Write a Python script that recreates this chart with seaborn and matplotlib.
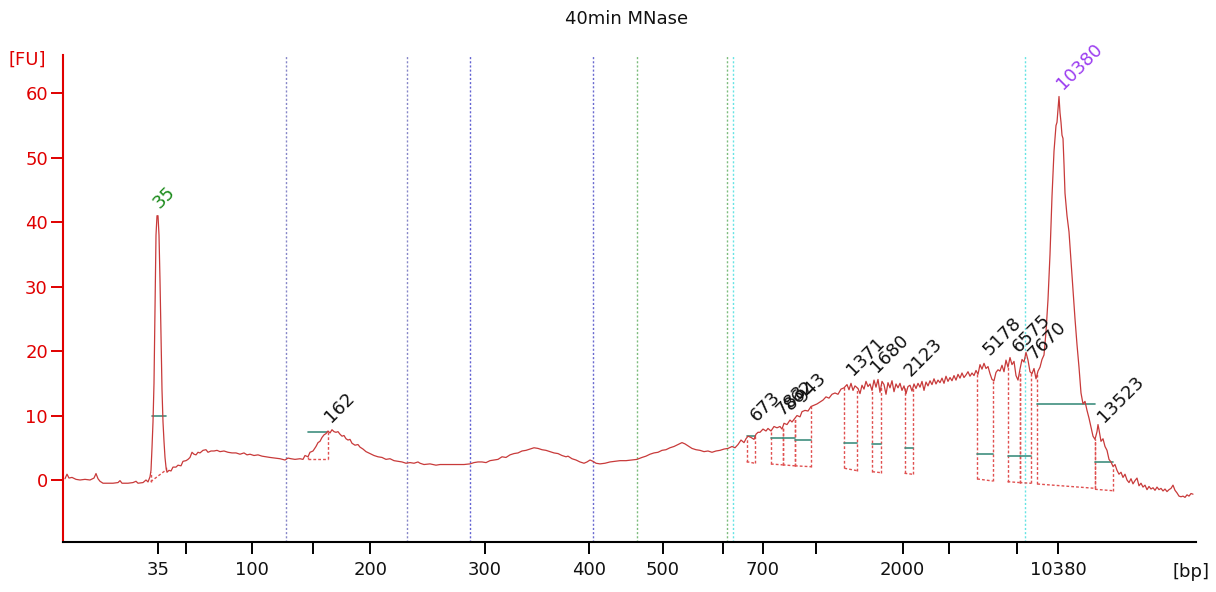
import numpy as np
import pandas as pd
import matplotlib
matplotlib.use("Agg")
import matplotlib.pyplot as plt
import seaborn as sns

# ---------------- data ----------------
title = "40min MNase"

# migration time (s) and fluorescence (FU) of the electropherogram trace
trace_time = [
    6.5, 6.7, 6.9, 7.2, 7.6, 8.0, 8.5, 9.0, 9.4, 9.6,
    9.8, 10.0, 10.3, 10.8, 11.3, 11.8, 12.0, 12.2, 12.8, 13.3,
    13.6, 13.8, 14.3, 14.6, 14.8, 15.0, 15.1, 15.2, 15.3, 15.4,
    15.5, 15.6, 15.7, 15.8, 15.9, 16.0, 16.1, 16.2, 16.3, 16.4,
    16.5, 16.6, 16.7, 16.9, 17.1, 17.3, 17.6, 17.8, 18.1, 18.3,
    18.6, 18.8, 19.0, 19.2, 19.4, 19.6, 19.8, 20.0, 20.3, 20.6,
    20.8, 21.1, 21.4, 21.7, 22.0, 22.4, 22.8, 23.2, 23.6, 24.0,
    24.4, 24.7, 25.0, 25.4, 25.8, 26.2, 26.6, 27.0, 27.5, 28.0,
    28.5, 28.8, 29.1, 29.5, 30.0, 30.3, 30.5, 30.8, 31.0, 31.3,
    31.6, 31.8, 32.0, 32.2, 32.4, 32.6, 32.8, 33.0, 33.2, 33.4,
    33.6, 33.8, 34.0, 34.2, 34.4, 34.6, 34.8, 35.0, 35.2, 35.5,
    35.8, 36.0, 36.3, 36.6, 37.0, 37.4, 37.8, 38.2, 38.6, 39.0,
    39.4, 39.8, 40.2, 40.6, 41.0, 41.4, 41.8, 42.0, 42.4, 43.0,
    43.6, 44.0, 44.6, 45.2, 45.8, 46.4, 47.0, 47.4, 47.8, 48.2,
    48.6, 49.0, 49.4, 49.8, 50.2, 50.6, 51.0, 51.4, 51.8, 52.2,
    52.6, 53.0, 53.4, 53.8, 54.2, 54.6, 55.0, 55.4, 55.8, 56.2,
    56.6, 56.8, 57.2, 57.6, 58.0, 58.4, 58.7, 59.0, 59.3, 59.6,
    60.0, 60.5, 61.0, 61.5, 62.0, 62.6, 63.2, 63.7, 64.2, 64.6,
    65.0, 65.4, 65.8, 66.2, 66.6, 67.0, 67.4, 67.8, 68.2, 68.5,
    68.8, 69.2, 69.6, 70.0, 70.4, 70.8, 71.2, 71.6, 72.0, 72.4,
    72.8, 73.2, 73.5, 73.8, 74.1, 74.4, 74.6, 74.8, 75.1, 75.4,
    75.6, 75.8, 76.0, 76.3, 76.6, 76.8, 77.1, 77.4, 77.7, 78.0,
    78.2, 78.4, 78.7, 79.0, 79.2, 79.5, 79.7, 80.0, 80.2, 80.5,
    80.8, 81.1, 81.4, 81.7, 82.0, 82.3, 82.6, 82.9, 83.2, 83.5,
    83.8, 84.1, 84.4, 84.7, 84.9, 85.1, 85.3, 85.5, 85.8, 86.0,
    86.2, 86.4, 86.6, 86.8, 87.0, 87.2, 87.4, 87.6, 87.8, 88.0,
    88.2, 88.4, 88.6, 88.8, 89.0, 89.2, 89.4, 89.6, 89.8, 90.0,
    90.2, 90.4, 90.6, 90.8, 91.0, 91.2, 91.4, 91.6, 91.8, 92.0,
    92.2, 92.4, 92.6, 92.8, 93.0, 93.2, 93.4, 93.6, 93.8, 94.0,
    94.2, 94.4, 94.6, 94.8, 95.0, 95.2, 95.4, 95.6, 95.8, 96.0,
    96.2, 96.4, 96.6, 96.8, 97.0, 97.2, 97.4, 97.6, 97.8, 98.0,
    98.2, 98.4, 98.6, 98.8, 99.0, 99.2, 99.4, 99.6, 99.8,
    100.0, 100.2, 100.4, 100.6, 100.8, 101.0, 101.2, 101.4, 101.6, 101.8,
    102.0, 102.2, 102.4, 102.6, 102.8, 103.0, 103.2, 103.4, 103.6, 103.8,
    104.0, 104.2, 104.4, 104.6, 104.8, 105.0, 105.2, 105.4, 105.6, 105.7,
    105.8, 105.9, 106.0, 106.1, 106.2, 106.3, 106.4, 106.5, 106.7, 106.9,
    107.1, 107.3, 107.5, 107.7, 107.9, 108.1, 108.3, 108.5, 108.7, 108.9,
    109.1, 109.3, 109.5, 109.7, 109.8, 109.9, 110.1, 110.3, 110.5, 110.7,
    110.9, 111.1, 111.3, 111.5, 111.7, 111.9, 112.1, 112.3, 112.5, 112.7,
    112.9, 113.1, 113.3, 113.5, 113.7, 113.9, 114.1, 114.3, 114.5, 114.7,
    114.9, 115.1, 115.3, 115.5, 115.7, 115.9, 116.1, 116.3, 116.5, 116.7,
    116.9, 117.1, 117.3, 117.5, 117.7, 117.9, 118.1, 118.3, 118.5, 118.7,
    118.9, 119.1, 119.3,
]
trace_fu = [
    0.2, 0.9, 0.3, 0.4, 0.1, 0.0, 0.1, 0.0, 0.3, 1.0,
    0.2, -0.2, -0.5, -0.5, -0.5, -0.4, -0.1, -0.5, -0.5, -0.4,
    -0.2, -0.5, -0.4, 0.0, -0.3, 0.5, 1.5, 5.0, 9.0, 15.0,
    27.0, 38.0, 41.0, 41.0, 38.0, 31.0, 22.0, 14.0, 9.0, 6.0,
    3.5, 2.0, 1.2, 1.5, 1.4, 2.0, 2.0, 2.3, 2.2, 2.9,
    3.0, 3.2, 3.5, 4.3, 4.0, 3.9, 4.3, 4.2, 4.6, 4.7,
    4.3, 4.5, 4.5, 4.6, 4.4, 4.5, 4.3, 4.2, 4.2, 4.0,
    4.2, 3.9, 4.0, 3.8, 3.9, 3.7, 3.6, 3.5, 3.4, 3.3,
    3.1, 3.4, 3.3, 3.2, 3.3, 3.2, 3.8, 3.6, 4.3, 4.5,
    5.2, 5.8, 6.0, 6.6, 7.0, 7.2, 7.6, 7.3, 7.8, 7.5,
    7.4, 7.5, 7.1, 6.8, 6.9, 6.4, 6.2, 6.3, 5.7, 5.4,
    5.5, 5.1, 4.8, 4.4, 4.1, 3.8, 3.6, 3.5, 3.2, 3.3,
    3.0, 2.9, 2.8, 2.6, 2.7, 2.6, 2.8, 2.6, 2.4, 2.5,
    2.3, 2.4, 2.4, 2.4, 2.4, 2.4, 2.5, 2.7, 2.8, 2.8,
    2.7, 3.0, 3.1, 3.2, 3.6, 3.5, 3.9, 4.1, 4.2, 4.5,
    4.6, 4.8, 5.0, 4.9, 4.7, 4.6, 4.4, 4.2, 4.1, 3.8,
    3.6, 3.7, 3.3, 3.1, 2.8, 2.6, 2.8, 3.1, 2.9, 2.6,
    2.5, 2.6, 2.8, 2.9, 3.0, 3.0, 3.1, 3.2, 3.5, 3.7,
    4.0, 4.2, 4.3, 4.6, 4.7, 5.0, 5.2, 5.5, 5.8, 5.6,
    5.3, 4.9, 4.7, 4.6, 4.4, 4.5, 4.3, 4.5, 4.6, 4.8,
    4.9, 5.2, 5.0, 5.5, 6.2, 5.8, 6.4, 6.8, 6.6, 6.3,
    7.1, 7.4, 7.4, 7.9, 7.6, 8.0, 7.6, 8.3, 8.1, 8.3,
    7.9, 8.8, 8.6, 9.3, 9.0, 9.6, 10.0, 9.8, 10.6, 10.8,
    10.7, 11.4, 11.6, 11.8, 12.1, 12.4, 12.9, 12.7, 13.3, 13.5,
    13.3, 14.1, 14.3, 14.8, 14.0, 15.0, 13.9, 14.6, 14.2, 13.4,
    14.7, 14.1, 15.3, 14.5, 14.9, 13.9, 15.5, 14.4, 15.6, 13.6,
    15.3, 14.8, 13.3, 15.1, 14.3, 15.4, 13.7, 14.9, 14.3, 15.0,
    13.9, 14.6, 13.4, 14.5, 14.7, 13.8, 14.9, 14.2, 15.0, 14.4,
    15.3, 13.9, 15.2, 14.6, 15.4, 14.8, 15.7, 14.9, 15.5, 15.1,
    15.8, 15.0, 16.1, 15.3, 15.9, 15.4, 16.2, 15.5, 16.4, 15.8,
    16.6, 15.9, 16.3, 16.8, 16.1, 16.6, 16.2, 17.0, 16.4, 17.9,
    17.2, 18.1, 17.3, 17.6, 16.5, 15.6, 15.4, 16.7, 17.1,
    16.9, 17.8, 16.8, 18.6, 17.5, 19.0, 17.9, 18.4, 16.2, 15.5,
    17.2, 18.7, 18.3, 19.8, 18.6, 16.8, 16.5, 17.3, 15.7, 16.9,
    17.5, 18.7, 19.4, 23.0, 28.0, 35.0, 44.0, 51.0, 55.0, 55.5,
    57.5, 59.5, 57.0, 55.5, 53.5, 53.0, 49.0, 44.5, 41.0, 38.5,
    34.0, 29.5, 25.0, 21.0, 17.5, 13.5, 11.8, 12.2, 10.8, 9.6,
    8.2, 6.8, 6.3, 7.5, 8.6, 7.8, 6.0, 6.4, 5.2, 4.6,
    3.2, 2.8, 2.1, 2.4, 1.5, 0.9, 1.2, 0.4, 0.9, 0.0,
    -0.4, 0.2, -0.6, -0.1, 0.3, -0.9, -0.5, -1.1, -0.8, -1.5,
    -1.0, -1.4, -1.2, -1.6, -1.1, -1.5, -1.3, -1.7, -1.4, -1.8,
    -1.5, -1.3, -0.8, -1.6, -2.0, -2.5, -2.6, -2.5, -2.7, -2.3,
    -2.5, -2.1, -2.2,
]

# ladder (bp) and its migration times
ladder_bp = [35, 50, 100, 150, 200, 300, 400, 500, 600, 700, 1000, 2000, 3000, 7000, 10380]
ladder_time = [15.82, 18.64, 25.22, 31.25, 37.02, 48.45, 58.9, 66.27, 72.27, 76.27,
               81.6, 90.27, 94.87, 101.73, 105.83]
ladder_labeled = [True, False, True, False, True, True, True, True, False, True,
                  False, True, False, False, True]
fu_ticks = [0, 10, 20, 30, 40, 50, 60]

# dotted region markers
vline_time = [28.63, 40.67, 47.03, 59.27, 63.67, 72.67, 73.27, 102.5]
vline_color = ["#8686c8", "#8686c8", "#6262d2", "#6a6ad0",
               "#7cbc7c", "#7cbc7c", "#66e4e4", "#66e4e4"]

# peaks
peak_label = ["35", "162", "673", "783", "862", "943", "1371", "1680", "2123",
              "5178", "6575", "7670", "10380", "13523"]
peak_label_time = [16.0, 33.1, 75.7, 78.3, 79.1, 80.3, 85.3, 87.7, 91.1,
                   99.0, 101.9, 103.4, 106.3, 110.4]
peak_label_color = ["#1a8a1a"] + ["#111111"] * 11 + ["#9b3cf0", "#111111"]
region_start = [15.07, 30.8, 74.66, 77.09, 78.27, 79.49, 84.44, 87.23, 90.45,
                97.72, 100.75, 101.96, 103.73, 109.5]
region_end = [16.6, 32.83, 75.52, 78.27, 79.49, 81.14, 85.74, 88.13, 91.32,
              99.29, 101.96, 103.14, 109.5, 111.28]
base_start = [-0.26, 3.3, 2.84, 2.48, 2.35, 2.2, 1.82, 1.29, 1.04, 0.16, -0.26, -0.4, -0.62, -1.44]
base_end = [1.55, 3.3, 2.59, 2.35, 2.2, 2.06, 1.44, 1.13, 0.88, -0.16, -0.4, -0.51, -1.29, -1.66]
level_start = [15.2, 30.8, 74.66, 77.09, 78.27, 79.49, 84.44, 87.23, 90.45,
               97.72, 100.75, 101.96, 103.73, 109.5]
level_end = [16.6, 32.67, 75.52, 78.27, 79.49, 81.14, 85.74, 88.13, 91.32,
             99.29, 101.96, 103.14, 109.5, 111.28]
level_fu = [10.0, 7.4, 6.83, 6.52, 6.52, 6.2, 5.79, 5.54, 4.92, 3.99, 3.65, 3.65, 11.75, 2.75]

assert len(trace_time) == len(trace_fu)

# ---------------- plot ----------------
sns.set_style("white")
plt.rcParams["font.family"] = ["DejaVu Sans"]

W, H = 1216, 592
fig = plt.figure(figsize=(W / 100, H / 100), dpi=100)
ax = fig.add_axes([63.3 / W, 1 - 542 / H, (1196 - 63.3) / W, (542 - 55) / H])

RED = "#e00000"
TRACE = "#c83a3a"
REGION = "#e05050"
LEVEL = "#3f8f7f"

df = pd.DataFrame({"time": trace_time, "fu": trace_fu})

for t, c in zip(vline_time, vline_color):
    ax.axvline(t, color=c, lw=1.0, ls=(0, (1.5, 1.5)), zorder=1)

tt = np.array(trace_time)
ff = np.array(trace_fu)
for s, e, b0, b1 in zip(region_start, region_end, base_start, base_end):
    ys = np.interp(s, tt, ff)
    ye = np.interp(e, tt, ff)
    ax.plot([s, e], [b0, b1], color=REGION, lw=1.0, ls=(0, (2, 1.5)), zorder=2)
    ax.plot([s, s], [b0, ys], color=REGION, lw=1.0, ls=(0, (2, 1.5)), zorder=2)
    ax.plot([e, e], [b1, ye], color=REGION, lw=1.0, ls=(0, (2, 1.5)), zorder=2)

for s, e, v in zip(level_start, level_end, level_fu):
    ax.plot([s, e], [v, v], color=LEVEL, lw=1.2, zorder=3)

sns.lineplot(data=df, x="time", y="fu", ax=ax, color=TRACE, lw=0.9,
             estimator=None, sort=False, zorder=4)

for lab, t, c in zip(peak_label, peak_label_time, peak_label_color):
    m = (tt >= t - 0.6) & (tt <= t + 0.6)
    y = ff[m].max() if m.any() else np.interp(t, tt, ff)
    ax.annotate(lab, (t, y), xytext=(0, 5), textcoords="offset points",
                rotation=45, rotation_mode="anchor", ha="left", va="baseline",
                fontsize=13, color=c, zorder=5)

ax.set_xlim(6.33, 119.6)
ax.set_ylim(-9.62, 65.94)
ax.set_xticks(ladder_time)
ax.set_xticklabels([str(b) if l else "" for b, l in zip(ladder_bp, ladder_labeled)])
ax.set_yticks(fu_ticks)
ax.set_yticklabels([str(v) for v in fu_ticks])
ax.set_xlabel("")
ax.set_ylabel("")
ax.tick_params(axis="x", direction="out", length=8.6, width=1.4, color="black",
               pad=5, labelsize=13, labelcolor="#111111", bottom=True)
ax.tick_params(axis="y", direction="out", length=8.6, width=1.4, color=RED,
               pad=2.5, labelsize=13, labelcolor=RED, left=True)
for side in ("top", "right"):
    ax.spines[side].set_visible(False)
ax.spines["left"].set_color(RED)
ax.spines["left"].set_linewidth(1.5)
ax.spines["bottom"].set_color("black")
ax.spines["bottom"].set_linewidth(1.5)

fig.text(627 / W, 1 - 19 / H, title, ha="center", va="center", fontsize=13, color="#111111")
fig.text(27 / W, 1 - 60 / H, "[FU]", ha="center", va="center", fontsize=13, color=RED)
fig.text(1191 / W, 1 - 572 / H, "[bp]", ha="center", va="center", fontsize=13, color="#111111")

fig.savefig("out.png", dpi=100)
